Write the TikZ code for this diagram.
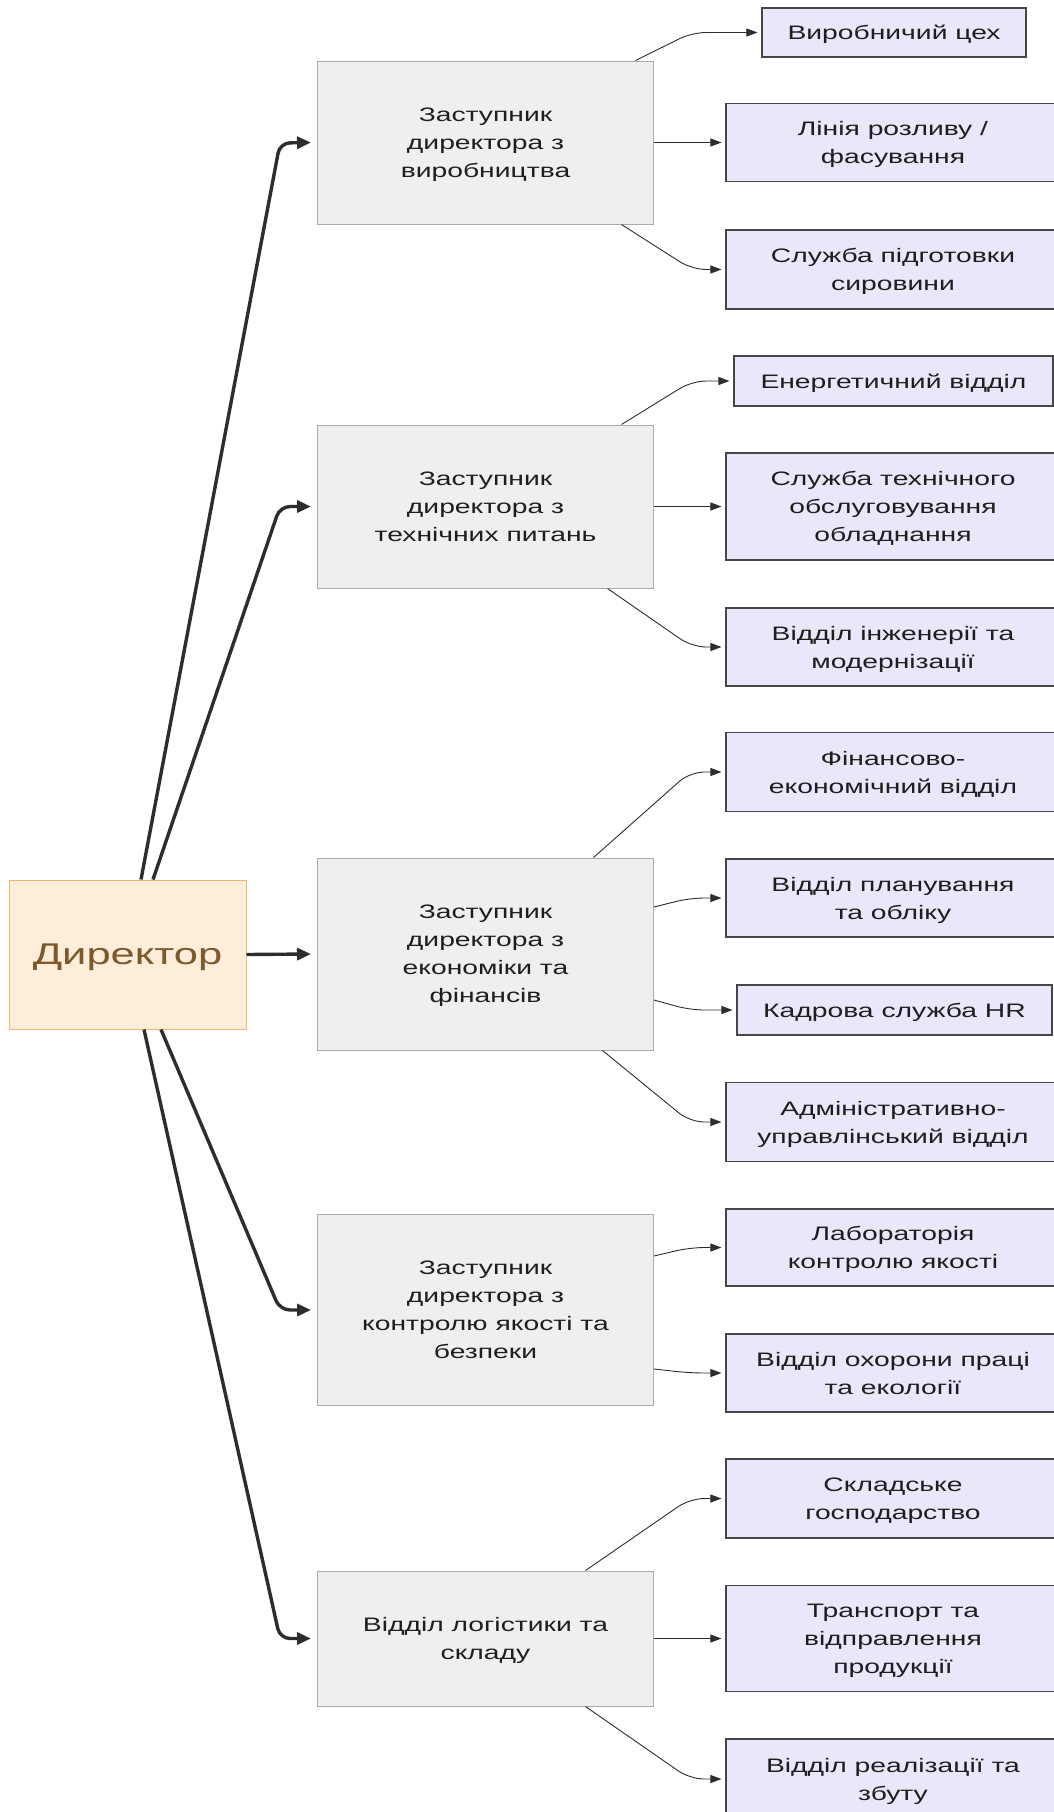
\documentclass[tikz,border=0pt]{standalone}
\usepackage{fontspec}
\setmainfont{Liberation Sans}[FakeStretch=1.45]
\usetikzlibrary{arrows.meta}
\definecolor{dirfill}{RGB}{253,237,217}
\definecolor{dirline}{RGB}{243,182,110}
\definecolor{dirtext}{RGB}{125,88,45}
\definecolor{depfill}{RGB}{239,239,239}
\definecolor{depline}{RGB}{170,170,170}
\definecolor{chfill}{RGB}{232,232,250}
\definecolor{chline}{RGB}{70,70,70}
\definecolor{arr}{RGB}{45,45,45}
\definecolor{txt}{RGB}{30,30,30}
\begin{document}
\begin{tikzpicture}[x=1pt,y=-1pt,
  dirbox/.style={draw=dirline, fill=dirfill, line width=1pt, inner sep=0pt,
    minimum width=237pt, minimum height=149pt, text=dirtext, text depth=0pt,
    font=\fontsize{30}{36}\selectfont},
  depbox/.style={draw=depline, fill=depfill, line width=1pt, inner sep=0pt,
    minimum width=336pt, align=center, text=txt, text depth=0pt,
    font=\fontsize{19.5}{28}\selectfont},
  chbox/.style={draw=chline, fill=chfill, line width=1.1pt, inner sep=0pt,
    minimum width=334pt, align=center, text=txt, text depth=0pt,
    font=\fontsize{19.5}{28}\selectfont},
  thickarr/.style={draw=arr, line width=3.4pt, rounded corners=10pt,
    -{Triangle[length=14pt,width=12pt]}},
  thinarr/.style={draw=arr, line width=0.9pt, rounded corners=14pt,
    -{Triangle[length=11pt,width=8pt]}}
]
\useasboundingbox (0,0) rectangle (1054,1812);
\fill[white] (0,0) rectangle (1054,1812);

% director
\node[dirbox] (dir) at (127.5,954.5) {Директор};

% deputies
\node[depbox, minimum height=163pt] (d1) at (485.5,142.5) {Заступник\\директора з\\виробництва};
\node[depbox, minimum height=163pt] (d2) at (485.5,506.5) {Заступник\\директора з\\технічних питань};
\node[depbox, minimum height=192pt] (d3) at (485.5,954) {Заступник\\директора з\\економіки та\\фінансів};
\node[depbox, minimum height=191pt] (d4) at (485.5,1310) {Заступник\\директора з\\контролю якості та\\безпеки};
\node[depbox, minimum height=135pt] (d5) at (485.5,1638.5) {Відділ логістики та\\складу};

% children
\node[chbox, minimum width=264pt, minimum height=49pt] (c11) at (894,32.5) {Виробничий цех};
\node[chbox, minimum height=78pt] (c12) at (893,142.5) {Лінія розливу /\\фасування};
\node[chbox, minimum height=79pt] (c13) at (893,269.5) {Служба підготовки\\сировини};
\node[chbox, minimum width=319pt, minimum height=50pt] (c21) at (893.5,381) {Енергетичний відділ};
\node[chbox, minimum height=107pt] (c22) at (893,506.5) {Служба технічного\\обслуговування\\обладнання};
\node[chbox, minimum height=78pt] (c23) at (893,647) {Відділ інженерії та\\модернізації};
\node[chbox, minimum height=79pt] (c31) at (893,772) {Фінансово-\\економічний відділ};
\node[chbox, minimum height=78pt] (c32) at (893,898) {Відділ планування\\та обліку};
\node[chbox, minimum width=315pt, minimum height=50pt] (c33) at (894.5,1010) {Кадрова служба HR};
\node[chbox, minimum height=79pt] (c34) at (893,1122) {Адміністративно-\\управлінський відділ};
\node[chbox, minimum height=77pt] (c41) at (893,1247.5) {Лабораторія\\контролю якості};
\node[chbox, minimum height=78pt] (c42) at (893,1373) {Відділ охорони праці\\та екології};
\node[chbox, minimum height=79pt] (c51) at (893,1498.5) {Складське\\господарство};
\node[chbox, minimum height=106pt] (c52) at (893,1638.5) {Транспорт та\\відправлення\\продукції};
\node[chbox, minimum height=80pt] (c53) at (893,1779) {Відділ реалізації та\\збуту};

% director -> deputies
\draw[thickarr] ([xshift=13.5pt]dir.north) -- (280,143) -- ([xshift=-6pt]d1.west);
\draw[thickarr] ([xshift=25.5pt]dir.north) -- (280,506.5) -- ([xshift=-6pt]d2.west);
\draw[thickarr] (dir.east) -- ([xshift=-6pt]d3.west);
\draw[thickarr] ([xshift=33.5pt]dir.south) -- (280,1310) -- ([xshift=-6pt]d4.west);
\draw[thickarr] ([xshift=16.5pt]dir.south) -- (280,1638.5) -- ([xshift=-6pt]d5.west);

% deputies -> children
\draw[thinarr] ([xshift=150pt]d1.north) -- (692,32.5) -- ([xshift=-4pt]c11.west);
\draw[thinarr] (d1.east) -- ([xshift=-4pt]c12.west);
\draw[thinarr] ([xshift=136pt]d1.south) -- (692,269.5) -- ([xshift=-4pt]c13.west);

\draw[thinarr] ([xshift=136pt]d2.north) -- (692,381) -- ([xshift=-4pt]c21.west);
\draw[thinarr] (d2.east) -- ([xshift=-4pt]c22.west);
\draw[thinarr] ([xshift=122pt]d2.south) -- (692,647) -- ([xshift=-4pt]c23.west);

\draw[thinarr] ([xshift=108pt]d3.north) -- (690,772) -- ([xshift=-4pt]c31.west);
\draw[thinarr] ([yshift=47pt]d3.east) -- (690,898) -- ([xshift=-4pt]c32.west);
\draw[thinarr] ([yshift=-46pt]d3.east) -- (690,1010) -- ([xshift=-4pt]c33.west);
\draw[thinarr] ([xshift=117pt]d3.south) -- (690,1122) -- ([xshift=-4pt]c34.west);

\draw[thinarr] ([yshift=54pt]d4.east) -- (690,1247.5) -- ([xshift=-4pt]c41.west);
\draw[thinarr] ([yshift=-59pt]d4.east) -- (690,1373) -- ([xshift=-4pt]c42.west);

\draw[thinarr] ([xshift=100pt]d5.north) -- (690,1498.5) -- ([xshift=-4pt]c51.west);
\draw[thinarr] (d5.east) -- ([xshift=-4pt]c52.west);
\draw[thinarr] ([xshift=100pt]d5.south) -- (690,1779) -- ([xshift=-4pt]c53.west);
\end{tikzpicture}
\end{document}
